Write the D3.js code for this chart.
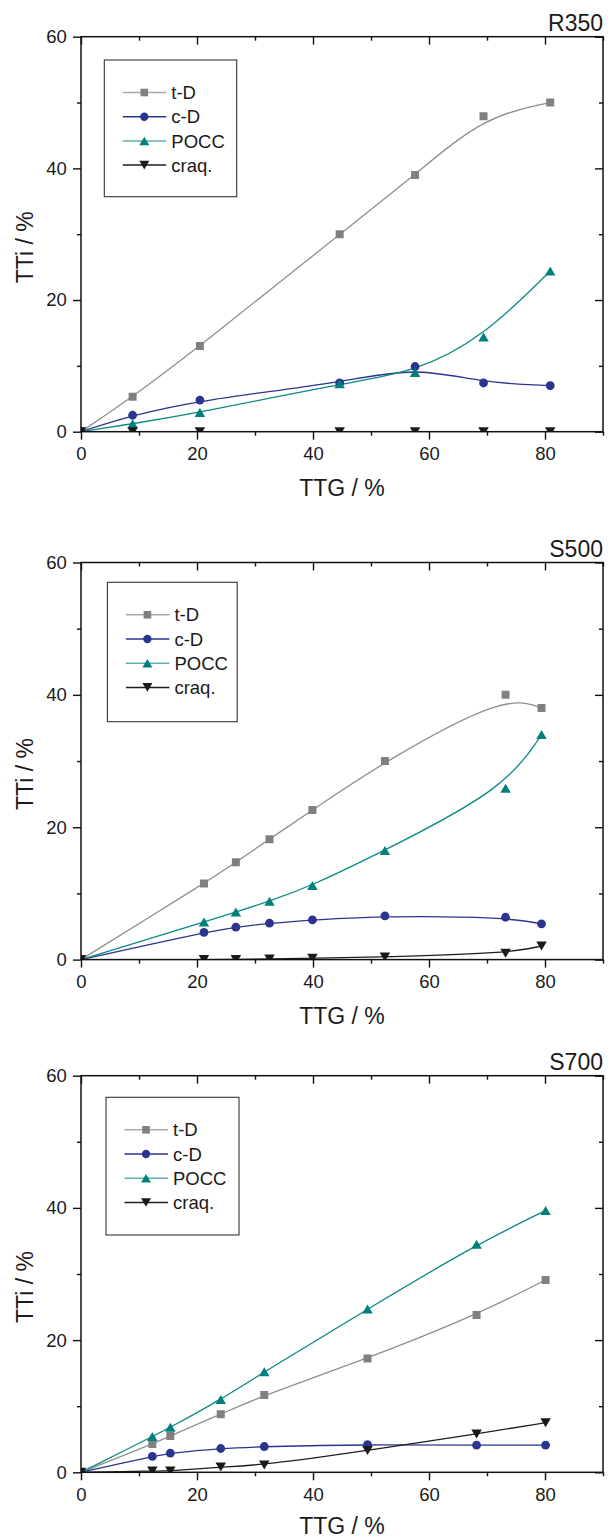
<!DOCTYPE html>
<html><head><meta charset="utf-8">
<script src="https://cdn.jsdelivr.net/npm/d3@7"></script>
<style>
body{margin:0;background:#fff;}
svg{display:block;font-family:"Liberation Sans",Arial,Helvetica,sans-serif;}
</style>
</head><body>
<script>
// ---------------- data ----------------
const panelNames = ["R350", "S500", "S700"];
const seriesNames = ["t-D", "c-D", "POCC", "craq."];
const xTickValues = [0, 20, 40, 60, 80];
const xMinorValues = [10, 30, 50, 70, 90];
const yTickValues = [0, 20, 40, 60];
const yMinorValues = [10, 30, 50];

const ttgR350   = [0, 8.9, 20.5, 44.6, 57.6, 69.4, 80.9];
const tDR350    = [0, 5.3, 13.0, 30.0, 39.0, 47.9, 50.0];
const cDR350    = [0, 2.5, 4.8, 7.4, 9.9, 7.4, 7.0];
const poccR350  = [0, 1.2, 2.9, 7.3, 9.0, 14.4, 24.4];
const craqR350  = [0, 0, 0, 0, 0, 0, 0];

const ttgS500   = [0, 21.2, 26.7, 32.5, 39.9, 52.4, 73.2, 79.4];
const tDS500    = [0, 11.5, 14.7, 18.2, 22.6, 30.0, 40.0, 38.0];
const cDS500    = [0, 4.1, 4.9, 5.5, 6.0, 6.6, 6.4, 5.4];
const poccS500  = [0, 5.7, 7.2, 8.8, 11.2, 16.5, 25.9, 34.0];
const craqS500  = [0, 0, 0, 0.1, 0.2, 0.4, 0.95, 2.05];

const ttgS700   = [0, 12.3, 15.4, 24.1, 31.6, 49.4, 68.2, 80.1];
const tDS700    = [0, 4.3, 5.5, 8.8, 11.7, 17.2, 23.8, 29.1];
const cDS700    = [0, 2.4, 2.9, 3.6, 3.9, 4.2, 4.1, 4.1];
const poccS700  = [0, 5.4, 6.8, 11.0, 15.2, 24.7, 34.5, 39.6];
const craqS700  = [0, 0.2, 0.2, 0.8, 1.1, 3.3, 5.8, 7.5];

// ---------------- styles / layout ----------------
const lineColors   = ["#8f8f8f", "#2b3590", "#0b8985", "#1e1e1e"];
const legendLineColors = ["#a9a9a9", "#2b3590", "#62b3ae", "#1e1e1e"];
const markerColors = ["#808080", "#2b3590", "#00807c", "#1a1a1a"];
const markerShapes = ["square", "circle", "triUp", "triDown"];

const W = 608, H = 1538;
const plotLeft = 81, plotRight = 603;
const layout = [
  {top: 36.7,   bottom: 431.7,  xTitleOff: 64.5, legend: {x: 104.3, y: 60.0,   w: 132.4, h: 136.7}},
  {top: 562.5,  bottom: 959.6,  xTitleOff: 64.5, legend: {x: 107.4, y: 582.3,  w: 129.8, h: 139.4}},
  {top: 1075.7, bottom: 1472.3, xTitleOff: 61.5, legend: {x: 106.0, y: 1097.3, w: 133.0, h: 137.7}}
];

const panels = [
  {name: panelNames[0], x: ttgR350, ys: [tDR350, cDR350, poccR350, craqR350]},
  {name: panelNames[1], x: ttgS500, ys: [tDS500, cDS500, poccS500, craqS500]},
  {name: panelNames[2], x: ttgS700, ys: [tDS700, cDS700, poccS700, craqS700]}
];

function markerPath(shape, k) {
  k = k || 1;
  if (shape === "square") { const s = 8 * k; return `M${-s/2},${-s/2}h${s}v${s}h${-s}Z`; }
  if (shape === "circle") { const r = 4.4 * k; return `M${r},0A${r},${r} 0 1,1 ${-r},0A${r},${r} 0 1,1 ${r},0Z`; }
  const w = 10.5 * k, h = 9 * k;
  if (shape === "triUp") return `M0,${-h/2}L${w/2},${h/2}L${-w/2},${h/2}Z`;
  return `M0,${h/2}L${w/2},${-h/2}L${-w/2},${-h/2}Z`;
}

const svg = d3.select("body").append("svg").attr("width", W).attr("height", H);
const FS_TICK = 18.5, FS_TITLE = 23, FS_LEG = 18.5;

panels.forEach((p, pi) => {
  const L = layout[pi];
  const x = d3.scaleLinear().domain([0, 90]).range([plotLeft, plotRight]);
  const y = d3.scaleLinear().domain([0, 60]).range([L.bottom, L.top]);
  const g = svg.append("g");

  const clipId = "clip" + pi;
  svg.append("defs").append("clipPath").attr("id", clipId)
    .append("rect").attr("x", plotLeft).attr("y", L.top)
    .attr("width", plotRight - plotLeft).attr("height", L.bottom - L.top);

  const plot = g.append("g").attr("clip-path", `url(#${clipId})`);
  const line = d3.line().curve(d3.curveBasis).x(d => x(d[0])).y(d => y(d[1]));

  p.ys.forEach((vals, si) => {
    const pts = p.x.map((xv, i) => [xv, vals[i]]);
    plot.append("path").attr("d", line(pts)).attr("fill", "none")
      .attr("stroke", lineColors[si]).attr("stroke-width", 1.3);
  });
  p.ys.forEach((vals, si) => {
    const pts = p.x.map((xv, i) => [xv, vals[i]]);
    plot.selectAll(null).data(pts).enter().append("path")
      .attr("transform", d => `translate(${x(d[0])},${y(d[1])})`)
      .attr("d", markerPath(markerShapes[si]))
      .attr("fill", markerColors[si]);
  });

  // axes
  const axStyle = sel => {
    sel.select(".domain").remove();
    sel.selectAll(".tick line").attr("stroke", "#111").attr("stroke-width", 1.4);
    sel.selectAll("text").attr("font-size", FS_TICK).attr("fill", "#1a1a1a")
      .attr("font-family", '"Liberation Sans",Arial,sans-serif');
  };
  g.append("g").attr("transform", `translate(0,${L.bottom})`)
    .call(d3.axisBottom(x).tickValues(xTickValues).tickSize(8).tickPadding(7.2).tickFormat(d3.format("d"))).call(axStyle);
  g.append("g").attr("transform", `translate(0,${L.bottom})`)
    .call(d3.axisBottom(x).tickValues(xMinorValues).tickSize(4).tickFormat("")).call(axStyle);
  g.append("g").attr("transform", `translate(0,${L.top})`)
    .call(d3.axisTop(x).tickValues(xTickValues).tickSize(-8).tickFormat("")).call(axStyle);
  g.append("g").attr("transform", `translate(0,${L.top})`)
    .call(d3.axisTop(x).tickValues(xMinorValues).tickSize(-4).tickFormat("")).call(axStyle);
  g.append("g").attr("transform", `translate(${plotLeft},0)`)
    .call(d3.axisLeft(y).tickValues(yTickValues).tickSize(8).tickPadding(6.3).tickFormat(d3.format("d"))).call(axStyle);
  g.append("g").attr("transform", `translate(${plotLeft},0)`)
    .call(d3.axisLeft(y).tickValues(yMinorValues).tickSize(4).tickFormat("")).call(axStyle);
  g.append("g").attr("transform", `translate(${plotRight},0)`)
    .call(d3.axisRight(y).tickValues(yTickValues).tickSize(-8).tickFormat("")).call(axStyle);
  g.append("g").attr("transform", `translate(${plotRight},0)`)
    .call(d3.axisRight(y).tickValues(yMinorValues).tickSize(-4).tickFormat("")).call(axStyle);

  // frame
  g.append("rect").attr("x", plotLeft).attr("y", L.top)
    .attr("width", plotRight - plotLeft).attr("height", L.bottom - L.top)
    .attr("fill", "none").attr("stroke", "#111").attr("stroke-width", 1.5);

  // titles
  g.append("text").attr("x", plotRight).attr("y", L.top - 6).attr("text-anchor", "end")
    .attr("font-size", FS_TITLE).attr("fill", "#1a1a1a").text(p.name);
  g.append("text").attr("x", (plotLeft + plotRight) / 2).attr("y", L.bottom + L.xTitleOff)
    .attr("text-anchor", "middle").attr("font-size", FS_TITLE).attr("fill", "#1a1a1a").text("TTG / %");
  const cy = (L.top + L.bottom) / 2 + 13;
  g.append("text").attr("transform", `translate(33,${cy}) rotate(-90)`)
    .attr("text-anchor", "middle").attr("font-size", FS_TITLE).attr("fill", "#1a1a1a").text("TTi / %");

  // legend
  const lg = g.append("g").attr("transform", `translate(${L.legend.x},${L.legend.y})`);
  lg.append("rect").attr("width", L.legend.w).attr("height", L.legend.h)
    .attr("fill", "#fff").attr("stroke", "#333").attr("stroke-width", 1.1);
  seriesNames.forEach((nm, si) => {
    const ry = 32.5 + si * 24.2;
    lg.append("line").attr("x1", 18.5).attr("x2", 62).attr("y1", ry).attr("y2", ry)
      .attr("stroke", legendLineColors[si]).attr("stroke-width", 1.5);
    lg.append("path").attr("transform", `translate(40,${ry})`)
      .attr("d", markerPath(markerShapes[si], 0.95)).attr("fill", markerColors[si]);
    lg.append("text").attr("x", 67).attr("y", ry).attr("dy", "0.36em")
      .attr("font-size", FS_LEG).attr("fill", "#1a1a1a").text(nm);
  });
});
</script>
</body></html>
